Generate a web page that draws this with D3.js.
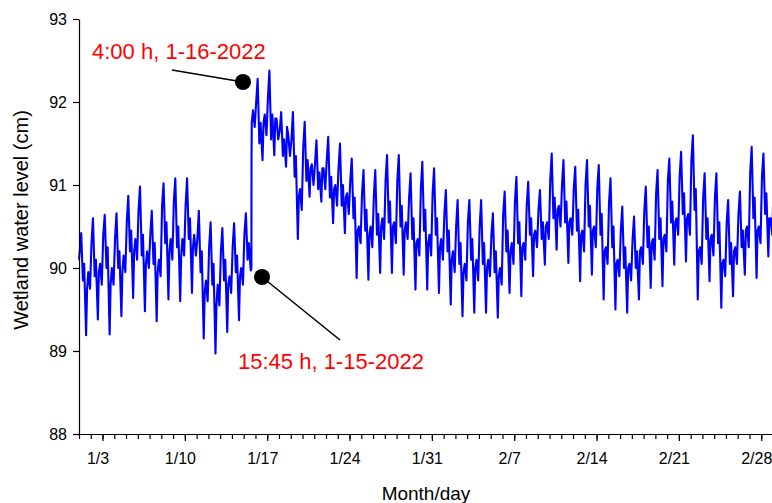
<!DOCTYPE html>
<html>
<head>
<meta charset="utf-8">
<script src="https://cdn.jsdelivr.net/npm/d3@7"></script>
<style>
  body { margin: 0; background: #fff; }
  svg { display: block; font-family: "Liberation Sans", Arial, sans-serif; }
  .axis path, .axis line { stroke: #000; stroke-width: 1.2; }
  .axis text { fill: #000; font-size: 16px; font-family: "Liberation Sans", Arial, sans-serif; }
</style>
</head>
<body>
<svg></svg>
<script>
var width = 772;
var height = 503;

// readings per day (Jan 1 .. Feb 28), cm
// night (~1:30), peak (~4:30), dip (~8:00), bump (~10:30), trough (~14:30),
// aft (~16:30), eve (~19:00), late (~22:30)
var readingHours = [1.5, 4.5, 8, 10.5, 14.5, 16.5, 19, 22.5];

var night = [90.20, 90.30, 90.40, 90.35, 90.55, 90.70, 90.40, 90.75, 90.80, 90.75,
             90.35, 90.25, 90.20, 90.25, 90.40, 92.00, 92.05, 91.65, 91.55, 91.45,
             91.25, 91.30, 91.20, 91.05, 90.90, 90.85, 91.05, 91.05, 90.85, 90.95,
             90.90, 90.65, 90.50, 90.55, 90.50, 90.40, 90.65, 90.80, 90.75, 90.70,
             91.05, 91.00, 90.95, 91.00, 90.95, 90.80, 90.45, 90.35, 90.70, 90.90,
             91.05, 91.10, 91.30, 90.85, 90.85, 90.55, 90.65, 91.15, 91.10];
var peak = [90.42, 90.60, 90.64, 90.66, 90.87, 90.98, 90.69, 91.02, 91.08, 91.08,
            90.69, 90.55, 90.48, 90.54, 90.66, 92.28, 92.38, 91.88, 91.88, 91.76,
            91.54, 91.58, 91.50, 91.32, 91.18, 91.18, 91.36, 91.36, 91.14, 91.28,
            91.20, 90.94, 90.82, 90.82, 90.82, 90.66, 90.92, 91.10, 91.04, 90.94,
            91.38, 91.30, 91.22, 91.30, 91.24, 91.08, 90.74, 90.62, 90.98, 91.18,
            91.32, 91.40, 91.60, 91.14, 91.14, 90.82, 90.92, 91.46, 91.38];
var dip = [89.85, 89.90, 90.00, 90.00, 90.20, 90.15, 90.05, 90.30, 90.25, 90.35,
           89.95, 89.80, 89.85, 89.95, 90.10, 91.50, 91.55, 91.35, 91.10, 91.05,
           90.95, 90.85, 90.75, 90.60, 90.45, 90.40, 90.55, 90.50, 90.35, 90.45,
           90.40, 90.20, 90.05, 90.10, 90.05, 89.95, 90.20, 90.30, 90.40, 90.35,
           90.60, 90.55, 90.45, 90.50, 90.40, 90.25, 90.00, 90.00, 90.25, 90.35,
           90.55, 90.65, 90.70, 90.35, 90.30, 90.05, 90.25, 90.60, 90.65];
var bump = [90.05, 90.10, 90.25, 90.20, 90.45, 90.40, 90.30, 90.55, 90.50, 90.60,
            90.20, 90.05, 90.10, 90.15, 90.30, 91.75, 91.85, 91.55, 91.35, 91.30,
            91.15, 91.10, 91.00, 90.85, 90.70, 90.65, 90.80, 90.75, 90.60, 90.70,
            90.60, 90.45, 90.30, 90.35, 90.30, 90.20, 90.45, 90.55, 90.60, 90.55,
            90.85, 90.80, 90.70, 90.75, 90.65, 90.50, 90.25, 90.20, 90.50, 90.60,
            90.80, 90.90, 90.95, 90.60, 90.55, 90.30, 90.45, 90.85, 90.90];
var trough = [89.19, 89.38, 89.20, 89.42, 89.64, 89.48, 89.36, 89.62, 89.60, 89.70,
              89.15, 88.97, 89.23, 89.37, 89.97, 91.30, 91.36, 91.22, 90.35, 90.86,
              90.80, 90.54, 90.42, 89.88, 89.86, 89.94, 89.94, 89.92, 89.74, 89.74,
              89.70, 89.56, 89.42, 89.46, 89.46, 89.40, 89.70, 89.66, 89.90, 90.04,
              90.22, 90.06, 89.84, 89.92, 89.62, 89.50, 89.46, 89.62, 89.76, 89.78,
              90.04, 90.08, 89.62, 89.84, 89.52, 89.66, 89.92, 89.88, 90.14];
var aft = [89.75, 89.95, 89.80, 89.95, 90.20, 90.05, 89.95, 90.20, 90.15, 90.25,
           89.70, 89.55, 89.80, 89.90, 91.75, 91.75, 91.80, 91.70, 90.85, 91.20,
           91.20, 90.95, 90.85, 90.45, 90.40, 90.50, 90.50, 90.45, 90.30, 90.30,
           90.25, 90.10, 89.95, 90.00, 90.00, 89.90, 90.20, 90.25, 90.40, 90.50,
           90.70, 90.55, 90.40, 90.45, 90.20, 90.05, 90.00, 90.20, 90.30, 90.35,
           90.55, 90.60, 90.20, 90.35, 90.05, 90.20, 90.45, 90.45, 90.60];
var eve = [89.95, 90.05, 90.00, 90.15, 90.35, 90.20, 90.10, 90.35, 90.35, 90.40,
           89.85, 89.80, 89.90, 90.00, 91.90, 91.85, 91.80, 91.60, 90.95, 91.25,
           91.20, 91.00, 90.90, 90.50, 90.50, 90.60, 90.55, 90.55, 90.35, 90.40,
           90.35, 90.20, 90.05, 90.10, 90.10, 90.00, 90.30, 90.30, 90.45, 90.55,
           90.75, 90.60, 90.45, 90.50, 90.25, 90.10, 90.05, 90.25, 90.35, 90.40,
           90.60, 90.65, 90.25, 90.40, 90.10, 90.25, 90.50, 90.50, 90.60];
var late = [89.75, 89.80, 89.80, 89.95, 90.10, 90.00, 89.90, 90.10, 90.15, 90.15,
            89.60, 89.55, 89.70, 89.80, 91.70, 91.60, 91.55, 91.35, 90.70, 91.00,
            90.95, 90.75, 90.65, 90.30, 90.25, 90.35, 90.30, 90.35, 90.15, 90.15,
            90.10, 89.95, 89.85, 89.85, 89.90, 89.80, 90.05, 90.10, 90.25, 90.35,
            90.50, 90.40, 90.20, 90.25, 90.05, 89.90, 89.85, 90.05, 90.10, 90.20,
            90.40, 90.40, 90.05, 90.15, 89.90, 90.05, 90.25, 90.30, 90.40];

// single readings outside the daily pattern
var extraTimes = ["2022-01-01T00:00", "2022-01-15T15:45", "2022-01-15T16:00", "2022-03-01T00:00"];
var extraValues = [90.10, 90.00, 91.30, 90.75];

var yTicks = [88, 89, 90, 91, 92, 93];
var majorTicks = ["2022-01-03", "2022-01-10", "2022-01-17", "2022-01-24", "2022-01-31",
                  "2022-02-07", "2022-02-14", "2022-02-21", "2022-02-28"];

var notes = [
  {text: "4:00 h, 1-16-2022", tx: 92, ty: 59, lx: 172, ly: 70, cx: 243, cy: 82},
  {text: "15:45 h, 1-15-2022", tx: 238, ty: 369, lx: 340, ly: 340, cx: 262, cy: 277}
];

var parseT = d3.utcParse("%Y-%m-%dT%H:%M");
var parseD = d3.utcParse("%Y-%m-%d");

var columns = [night, peak, dip, bump, trough, aft, eve, late];
var series = [];
peak.forEach(function(p, d) {
  columns.forEach(function(col, k) {
    series.push({t: new Date(Date.UTC(2022, 0, 1 + d) + readingHours[k] * 3600e3), v: col[d]});
  });
});
extraTimes.forEach(function(s, i) {
  series.push({t: parseT(s), v: extraValues[i]});
});
series.sort(function(a, b) { return a.t - b.t; });

var svg = d3.select("svg")
  .attr("width", width)
  .attr("height", height);

var x = d3.scaleUtc()
  .domain([new Date(Date.UTC(2022, 0, 1)), new Date(Date.UTC(2022, 2, 1))])
  .range([79, 773]);

var y = d3.scaleLinear()
  .domain([88, 93])
  .range([434, 19]);

var line = d3.line()
  .x(function(d) { return x(d.t); })
  .y(function(d) { return y(d.v); });

svg.append("path")
  .datum(series)
  .attr("fill", "none")
  .attr("stroke", "#0000ff")
  .attr("stroke-width", 2.1)
  .attr("stroke-linejoin", "round")
  .attr("d", line);

// y axis
svg.append("g")
  .attr("class", "axis")
  .attr("transform", "translate(79,0)")
  .call(d3.axisLeft(y).tickValues(yTicks).tickSize(6).tickPadding(6).tickSizeOuter(0).tickFormat(d3.format("d")));

// x axis: daily minor ticks
svg.append("g")
  .attr("class", "axis")
  .attr("transform", "translate(0,434)")
  .call(d3.axisBottom(x).ticks(d3.utcDay.every(1)).tickSize(5).tickSizeOuter(0).tickFormat(""));

// weekly major ticks with labels
var fmt = d3.utcFormat("%-m/%-d");
var gx = svg.append("g")
  .attr("class", "axis")
  .attr("transform", "translate(0,434)")
  .call(d3.axisBottom(x).tickValues(majorTicks.map(parseD)).tickSize(7).tickPadding(12).tickFormat(fmt));
gx.select(".domain").remove();
gx.selectAll("text").attr("dx", -5);

svg.append("text")
  .attr("x", 426)
  .attr("y", 500)
  .attr("text-anchor", "middle")
  .style("font-size", "19px")
  .text("Month/day");

svg.append("text")
  .attr("transform", "translate(28,220) rotate(-90)")
  .attr("text-anchor", "middle")
  .style("font-size", "20px")
  .text("Wetland water level (cm)");

// annotations
notes.forEach(function(n) {
  svg.append("line")
    .attr("x1", n.lx).attr("y1", n.ly)
    .attr("x2", n.cx).attr("y2", n.cy)
    .attr("stroke", "#000")
    .attr("stroke-width", 1.6);
  svg.append("circle")
    .attr("cx", n.cx).attr("cy", n.cy)
    .attr("r", 8)
    .attr("fill", "#000");
  svg.append("text")
    .attr("x", n.tx).attr("y", n.ty)
    .attr("fill", "#ff0000")
    .style("font-size", "22px")
    .text(n.text);
});
</script>
</body>
</html>
